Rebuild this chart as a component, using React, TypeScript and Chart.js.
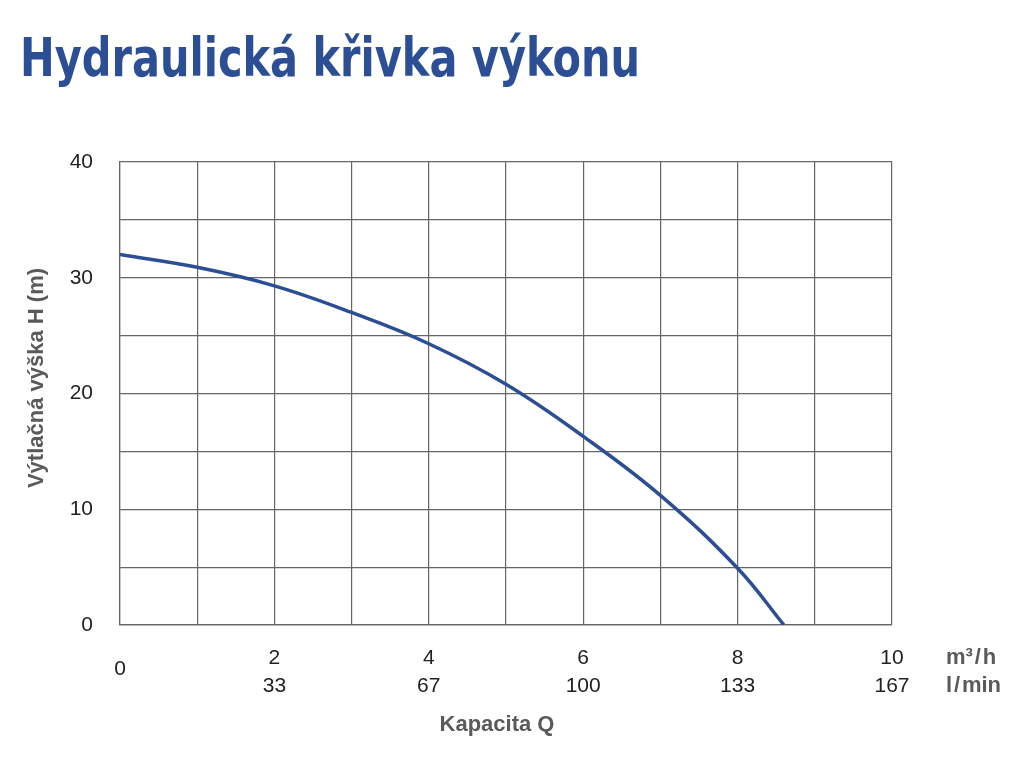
import { useEffect, useRef } from "react";
import { Chart, registerables } from "chart.js";

Chart.register(...registerables);

// Q in m3/h, H in m
const flowQ = [0, 1, 2, 3, 4, 5, 6, 7, 8, 8.6];
const headH = [32, 30.9, 29.3, 27.0, 24.3, 20.8, 16.3, 11.2, 4.9, 0];

// labelled ticks on the x axis (m3/h and the matching l/min)
const qTicks = [2, 4, 6, 8, 10];
const lminTicks = ["33", "67", "100", "133", "167"];

const yLabelTicks = [0, 10, 20, 30, 40];

const TITLE = "Hydraulická křivka výkonu";
const Y_TITLE = "Výtlačná výška H (m)";
const X_TITLE = "Kapacita Q";
const UNIT_Q = "m³\u200a/\u200ah";
const UNIT_L = "l\u200a/\u200amin";

const BLUE = "#2b4e94";
const GRID = "#666666";
const LABEL = "#222222";
const GREY = "#5a5a5a";
const FONT = "'Liberation Sans', Arial, sans-serif";

const textPlugin = {
  id: "extraTexts",
  afterDraw(chart: Chart) {
    const { ctx, chartArea, scales } = chart;
    ctx.save();

    // title, fitted to the width of the original lettering
    ctx.fillStyle = BLUE;
    ctx.font = `bold 54px 'DejaVu Sans', sans-serif`;
    ctx.textBaseline = "alphabetic";
    ctx.textAlign = "left";
    const w = ctx.measureText(TITLE).width;
    ctx.save();
    ctx.translate(20, 76);
    ctx.scale(620 / w, 1);
    ctx.fillText(TITLE, 0, 0);
    ctx.restore();

    // y axis title
    ctx.fillStyle = GREY;
    ctx.font = `bold 22px ${FONT}`;
    ctx.textAlign = "center";
    ctx.textBaseline = "middle";
    ctx.save();
    ctx.translate(37, 378);
    ctx.rotate(-Math.PI / 2);
    ctx.fillText(Y_TITLE, 0, 0);
    ctx.restore();

    // x axis title
    ctx.fillText(X_TITLE, 497, chartArea.bottom + 100);

    // units
    ctx.textAlign = "left";
    ctx.fillText(UNIT_Q, chartArea.right + 54, chartArea.bottom + 33);
    ctx.fillText(UNIT_L, chartArea.right + 54, chartArea.bottom + 61);

    // zero of the x axis sits between the two label rows
    ctx.fillStyle = LABEL;
    ctx.font = `21px ${FONT}`;
    ctx.textAlign = "center";
    ctx.fillText("0", scales.x.getPixelForValue(0), chartArea.bottom + 44);

    ctx.restore();
  },
};

const App = () => {
  const chartRef = useRef<HTMLCanvasElement | null>(null);
  const chartInstance = useRef<Chart | null>(null);

  useEffect(() => {
    if (!chartRef.current) return;
    const ctx = chartRef.current.getContext("2d");
    if (!ctx) return;

    chartInstance.current = new Chart(ctx, {
      type: "line",
      data: {
        datasets: [
          {
            label: "H",
            data: flowQ.map((q, i) => ({ x: q, y: headH[i] })),
            borderColor: BLUE,
            borderWidth: 3.5,
            pointRadius: 0,
            tension: 0.4,
            fill: false,
          },
        ],
      },
      options: {
        responsive: false,
        animation: false,
        layout: { padding: { top: 162, right: 132, bottom: 0, left: 0 } },
        plugins: {
          legend: { display: false },
          tooltip: { enabled: false },
        },
        scales: {
          x: {
            type: "linear",
            min: 0,
            max: 10,
            afterFit: (scale: any) => {
              scale.height = 143;
            },
            grid: { color: GRID, lineWidth: 1.2, drawTicks: false },
            border: { color: GRID, width: 1.2 },
            ticks: {
              stepSize: 1,
              autoSkip: false,
              maxRotation: 0,
              padding: 19,
              color: LABEL,
              font: { family: FONT, size: 21, lineHeight: 28 / 21 },
              callback: (v: any) => {
                const i = qTicks.indexOf(Number(v));
                return i >= 0 ? [String(qTicks[i]), lminTicks[i]] : "";
              },
            },
          },
          y: {
            min: 0,
            max: 40,
            afterFit: (scale: any) => {
              scale.width = 120;
            },
            grid: { color: GRID, lineWidth: 1.2, drawTicks: false },
            border: { color: GRID, width: 1.2 },
            ticks: {
              stepSize: 5,
              autoSkip: false,
              padding: 27,
              color: LABEL,
              font: { family: FONT, size: 21 },
              callback: (v: any) =>
                yLabelTicks.includes(Number(v)) ? String(v) : "",
            },
          },
        },
      },
      plugins: [textPlugin],
    });

    return () => {
      if (chartInstance.current) {
        chartInstance.current.destroy();
        chartInstance.current = null;
      }
    };
  }, []);

  return (
    <div
      style={{
        position: "fixed",
        top: 0,
        left: 0,
        width: 1024,
        height: 768,
        background: "#fff",
      }}
    >
      <canvas ref={chartRef} width="1024" height="768"></canvas>
    </div>
  );
};

export default App;
